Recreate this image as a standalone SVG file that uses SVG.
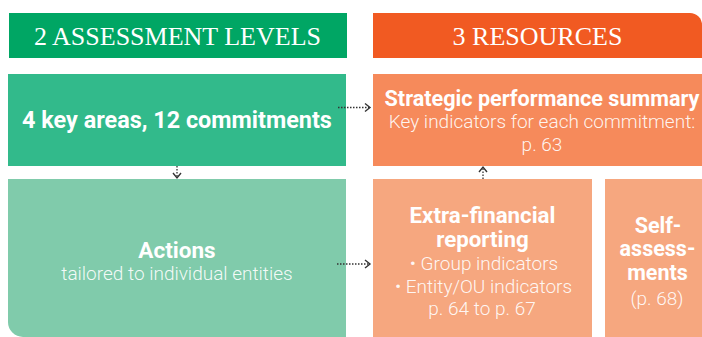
<svg xmlns="http://www.w3.org/2000/svg" width="702" height="337" viewBox="0 0 702 337">
<style>
.hdr{font-family:"Liberation Serif","Times New Roman",serif;font-size:26px;fill:#ffffff;text-anchor:middle}
.b{font-family:Roboto,"Liberation Sans",Arial,sans-serif;font-weight:700;font-size:22px;fill:#ffffff;text-anchor:middle}
.l{font-family:Roboto,"Liberation Sans",Arial,sans-serif;font-weight:300;font-size:19px;fill:#ffffff;fill-opacity:0.92;text-anchor:middle}
.c{fill:none;stroke:#333333;stroke-width:1.3;stroke-dasharray:1.5 1.5}
.h{fill:none;stroke:#333333;stroke-width:1.4}
</style>
<rect width="702" height="337" fill="#ffffff"/>
<g id="hdr-assessment">
<rect x="9" y="13" width="338" height="45" fill="#00a664"/>
<text class="hdr" x="177.5" y="45">2 ASSESSMENT LEVELS</text>
</g>
<g id="hdr-resources">
<path d="M373 13 H690 A12 12 0 0 1 702 25 V58 H373 Z" fill="#f15a22"/>
<text class="hdr" x="537.5" y="45">3 RESOURCES</text>
</g>
<g id="key-areas">
<rect x="8" y="74" width="338" height="92" fill="#32ba8b"/>
<text class="b" x="177" y="128" style="font-size:23.4px">4 key areas, 12 commitments</text>
</g>
<g id="actions">
<path d="M8 179 H346 V337 H23 A15 15 0 0 1 8 322 Z" fill="#80cbab"/>
<text class="b" x="177" y="258" style="font-size:22.5px">Actions</text>
<text class="l" x="177" y="280">tailored to individual entities</text>
</g>
<g id="strategic">
<rect x="373" y="74" width="329" height="92" fill="#f68a5b"/>
<text class="b" x="542" y="106" style="font-size:21.6px">Strategic performance summary</text>
<text class="l" x="542" y="128">Key indicators for each commitment:</text>
<text class="l" x="542" y="151">p. 63</text>
</g>
<g id="extra-financial">
<rect x="373" y="179" width="219" height="158" fill="#f6a77f"/>
<text class="b" x="482.5" y="222.5" style="font-size:22.3px">Extra-financial</text>
<text class="b" x="482.5" y="246.5" style="font-size:22.3px">reporting</text>
<text class="l" x="484" y="270">• Group indicators</text>
<text class="l" x="483.5" y="293">• Entity/OU indicators</text>
<text class="l" x="482" y="315">p. 64 to p. 67</text>
</g>
<g id="self-assessments">
<rect x="605" y="179" width="97" height="158" fill="#f6a77f"/>
<text class="b" x="658" y="233" style="font-size:21.5px">Self-</text>
<text class="b" x="657.5" y="256" style="font-size:21.5px">assess-</text>
<text class="b" x="657.5" y="279.5" style="font-size:21.5px">ments</text>
<text class="l" x="657" y="305">(p. 68)</text>
</g>
<g id="connectors">
<line class="c" x1="338" y1="107.5" x2="369" y2="107.5"/>
<path class="h" d="M365 103.5 L370 107.5 L365 111.5"/>
<line class="c" x1="337" y1="264" x2="369" y2="264"/>
<path class="h" d="M365 260 L370 264 L365 268"/>
<line class="c" x1="177" y1="166" x2="177" y2="177"/>
<path class="h" d="M173 173 L177 178 L181 173"/>
<line class="c" x1="483" y1="179" x2="483" y2="168"/>
<path class="h" d="M479 172 L483 167 L487 172"/>
</g>
</svg>
